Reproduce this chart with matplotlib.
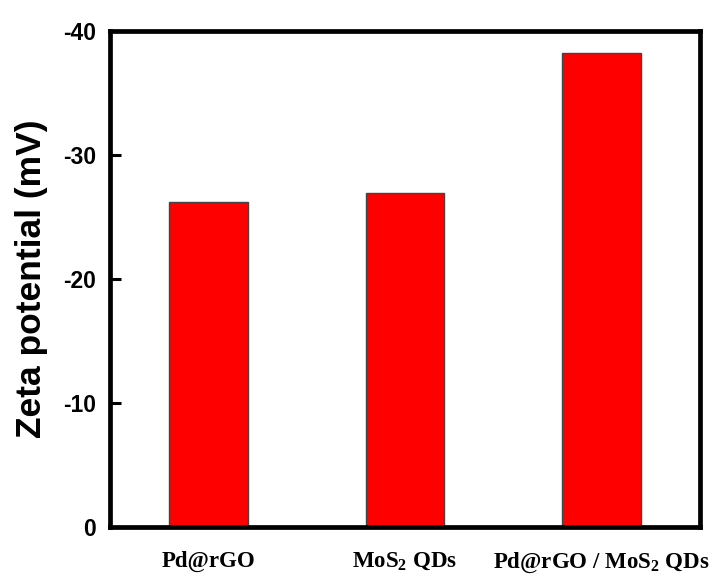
import matplotlib.pyplot as plt
import numpy as np

samples = ['Pd@rGO', r'MoS$_\mathbf{2}$ QDs', r'Pd@rGO / MoS$_\mathbf{2}$ QDs']
zeta = [-26.2, -26.9, -38.2]
yticks = [0, -10, -20, -30, -40]

plt.rcParams['mathtext.fontset'] = 'custom'
plt.rcParams['mathtext.bf'] = 'Liberation Serif:bold'
plt.rcParams['mathtext.rm'] = 'Liberation Serif:bold'

fig = plt.figure(figsize=(7.25, 5.77), dpi=100)
ax = fig.add_axes([110 / 725, 1 - 527 / 577, 590 / 725, 496 / 577])

x = np.arange(len(samples))
ax.bar(x, zeta, width=0.4, color='#ff0000', edgecolor='#444444', linewidth=1.0)

ax.set_xlim(-0.5, 2.5)
ax.set_ylim(0, -40)
ax.set_yticks(yticks)
ax.set_yticklabels([str(t) for t in yticks], fontfamily='Liberation Sans',
                   fontweight='bold', fontsize=16.5)
ax.set_xticks(x)
ax.set_xticklabels(samples, fontfamily='Liberation Serif', fontweight='bold', fontsize=16.5)
ax.tick_params(axis='x', length=0, pad=17)
ax.tick_params(axis='y', direction='in', length=8, width=2.2, pad=10)

for s in ax.spines.values():
    s.set_linewidth(3.4)

ax.set_ylabel('Zeta potential (mV)', fontfamily='Liberation Sans', fontweight='bold',
              fontsize=25.5, labelpad=11)

fig.savefig('out.png', dpi=100)
